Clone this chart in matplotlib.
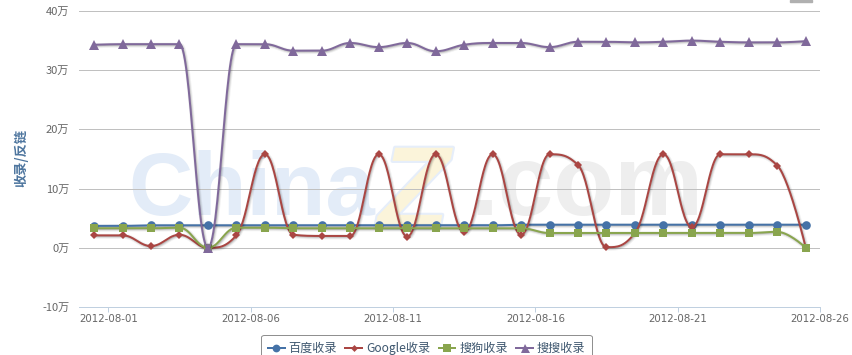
import numpy as np
import pandas as pd
import matplotlib
matplotlib.use("Agg")
import matplotlib.pyplot as plt
import matplotlib.dates as mdates
import matplotlib.patheffects as pe
from matplotlib.lines import Line2D
from matplotlib.patches import Rectangle

plt.rcParams['font.family'] = ['Noto Sans CJK SC', 'DejaVu Sans']

# data, unit: 万
dates = pd.date_range('2012-07-31 12:00', periods=26, freq='D')
tick_dates = pd.date_range('2012-08-01', '2012-08-26', freq='5D')
names = ['百度收录', 'Google收录', '搜狗收录', '搜搜收录']
baidu = [3.7, 3.7, 3.8, 3.8, 3.8, 3.8, 3.8, 3.8, 3.8, 3.8, 3.8, 3.8, 3.8,
         3.8, 3.8, 3.9, 3.9, 3.9, 3.9, 3.9, 3.9, 3.9, 3.9, 3.9, 3.9, 3.9]
google = [2.1, 2.1, 0.3, 2.2, 0.0, 2.1, 15.8, 2.2, 2.0, 2.0, 15.8, 1.9, 15.8,
          2.6, 15.8, 2.2, 15.8, 14.0, 0.1, 2.5, 15.8, 3.5, 15.8, 15.8, 13.9, 0.0]
sogou = [3.3, 3.3, 3.3, 3.4, 0.0, 3.4, 3.4, 3.3, 3.3, 3.3, 3.3, 3.3, 3.3,
         3.3, 3.3, 3.3, 2.5, 2.5, 2.5, 2.5, 2.5, 2.5, 2.5, 2.5, 2.7, 0.0]
soso = [34.3, 34.4, 34.4, 34.4, 0.0, 34.4, 34.4, 33.3, 33.3, 34.6, 33.9, 34.6, 33.2,
        34.3, 34.6, 34.6, 33.9, 34.8, 34.8, 34.7, 34.8, 35.0, 34.8, 34.7, 34.7, 34.9]
yticks = [-10, 0, 10, 20, 30, 40]

colors = ['#4572A7', '#AA4643', '#89A54E', '#80699B']
markers = ['o', 'D', 's', '^']
msizes = [6.2, 3.9, 6.0, 7.2]

W, H = 852, 355


def spline(xs, ys, smoothing=1.5, steps=30):
    # same smoothing rule as the highcharts spline series
    xs = np.asarray(xs, float)
    ys = np.asarray(ys, float)
    k = len(xs)
    lc = [(x, y) for x, y in zip(xs, ys)]
    rc = [(x, y) for x, y in zip(xs, ys)]
    d = smoothing + 1
    for i in range(1, k - 1):
        x, y = xs[i], ys[i]
        lx, ly, nx, ny = xs[i - 1], ys[i - 1], xs[i + 1], ys[i + 1]
        lcx = (smoothing * x + lx) / d
        lcy = (smoothing * y + ly) / d
        rcx = (smoothing * x + nx) / d
        rcy = (smoothing * y + ny) / d
        corr = (rcy - lcy) * (rcx - x) / (rcx - lcx) + y - rcy
        lcy += corr
        rcy += corr
        if lcy > ly and lcy > y:
            lcy = max(ly, y)
            rcy = 2 * y - lcy
        elif lcy < ly and lcy < y:
            lcy = min(ly, y)
            rcy = 2 * y - lcy
        if rcy > ny and rcy > y:
            rcy = max(ny, y)
            lcy = 2 * y - rcy
        elif rcy < ny and rcy < y:
            rcy = min(ny, y)
            lcy = 2 * y - rcy
        lc[i] = (lcx, lcy)
        rc[i] = (rcx, rcy)
    t = np.linspace(0, 1, steps)[:, None]
    out = [np.array([[xs[0], ys[0]]])]
    for i in range(1, k):
        p0 = np.array([xs[i - 1], ys[i - 1]])
        p1 = np.array(rc[i - 1])
        p2 = np.array(lc[i])
        p3 = np.array([xs[i], ys[i]])
        seg = (1 - t) ** 3 * p0 + 3 * (1 - t) ** 2 * t * p1 + 3 * (1 - t) * t ** 2 * p2 + t ** 3 * p3
        out.append(seg[1:])
    pts = np.vstack(out)
    return pts[:, 0], pts[:, 1]


fig = plt.figure(figsize=(W / 100, H / 100), dpi=100)
ax = fig.add_axes([79 / W, 1 - 307 / H, (820 - 79) / W, (307 - 11) / H])
ax.patch.set_alpha(0)

# watermark
ax.text(128 / W, 1 - 215 / H, 'China', transform=fig.transFigure, fontsize=64,
        family='Liberation Sans', weight='bold', color='#e3ecf8', zorder=0.1)
ax.text(378 / W, 1 - 228 / H, 'Z', transform=fig.transFigure, fontsize=84,
        family='Liberation Sans', weight='bold', style='italic', color='#fbf4da', zorder=0.1,
        path_effects=[pe.withStroke(linewidth=3, foreground='#e6eefa')])
ax.text(470 / W, 1 - 215 / H, '.com', transform=fig.transFigure, fontsize=72,
        family='Liberation Sans', weight='bold', color='#eeeeee', zorder=0.1)

x = mdates.date2num(dates)
x0 = mdates.date2num(pd.Timestamp('2012-08-01'))
ax.set_xlim(x0 - 1.03, x0 + 25)
ax.set_ylim(-10, 40)

shadow = [pe.SimpleLineShadow(offset=(0.72, -0.72), shadow_color='black', alpha=0.05, rho=1, linewidth=3.6),
          pe.SimpleLineShadow(offset=(0.72, -0.72), shadow_color='black', alpha=0.10, rho=1, linewidth=2.16),
          pe.SimpleLineShadow(offset=(0.72, -0.72), shadow_color='black', alpha=0.15, rho=1, linewidth=0.72),
          pe.Normal()]

series = [baidu, google, sogou, soso]
for i, vals in enumerate(series):
    sx, sy = spline(x, vals)
    ax.plot(sx, sy, color=colors[i], lw=1.44, zorder=2 + i, path_effects=shadow,
            solid_joinstyle='round', solid_capstyle='round')
    ax.plot(x, vals, linestyle='none', marker=markers[i], ms=msizes[i], mew=0,
            color=colors[i], zorder=2.5 + i, clip_on=False)

ax.set_yticks(yticks)
ax.set_yticklabels([f'{v}万' for v in yticks])
ax.yaxis.grid(True, color='#C0C0C0', lw=0.72)
ax.set_axisbelow(True)
ax.set_xticks(mdates.date2num(tick_dates))
ax.set_xticklabels([d.strftime('%Y-%m-%d') for d in tick_dates], family='DejaVu Sans')

for s in ['left', 'right', 'top']:
    ax.spines[s].set_visible(False)
ax.spines['bottom'].set_color('#C0D0E0')
ax.spines['bottom'].set_linewidth(0.72)
ax.spines['bottom'].set_zorder(1)

ax.tick_params(axis='x', length=3.6, width=0.72, color='#C0D0E0', labelcolor='#666666',
               labelsize=7.4, pad=1.5)
ax.tick_params(axis='y', length=0, pad=7, labelcolor='#666666', labelsize=8)

fig.text(21.5 / W, 1 - 158 / H, '收录/反链', rotation=90, color='#4d759e',
         fontweight='bold', fontsize=9.5, ha='center', va='center')

handles = [Line2D([], [], color=c, lw=1.44, marker=m, ms=s * 0.9, mew=0)
           for c, m, s in zip(colors, markers, msizes)]
leg = fig.legend(handles, names, ncol=4, loc='upper center',
                 bbox_to_anchor=(426.5 / W, 1 - 329 / H), frameon=True, fancybox=True,
                 edgecolor='#909090', facecolor='white', framealpha=1, fontsize=8.7,
                 handlelength=1.4, handletextpad=0.3, columnspacing=0.7, borderpad=0.55,
                 labelcolor='#3E576F')
leg.get_frame().set_linewidth(0.72)

# export button edge at the top right
fig.patches.append(Rectangle((790 / W, 1 - 2 / H), 22 / W, 2 / H, transform=fig.transFigure,
                             color='#b0b0b0'))

fig.savefig('out.png', dpi=100)
